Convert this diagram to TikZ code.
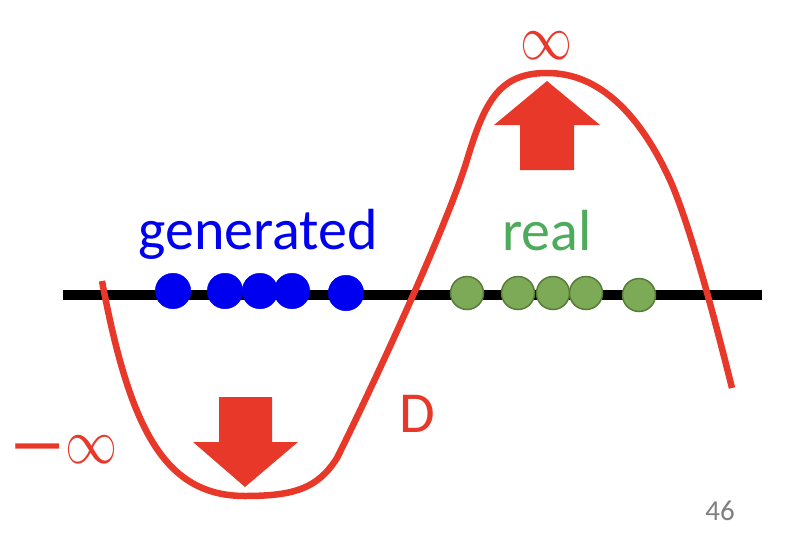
\documentclass[tikz,border=0pt]{standalone}
\usepackage{fontspec}
\usepackage{graphicx}
\setmainfont{Carlito}
\definecolor{dred}{HTML}{E8382A}
\definecolor{genblue}{HTML}{0000F0}
\definecolor{realgreen}{HTML}{4EAB5C}
\definecolor{dotgreen}{HTML}{7DAA56}
\definecolor{dotedge}{HTML}{587C38}
\newcommand{\tallinf}{{\fontsize{10}{12}\selectfont\scalebox{5.2}[6.4]{$\infty$}}}
\begin{document}
\begin{tikzpicture}[x=1pt,y=-1pt,
	lbl/.style={anchor=base,inner sep=0pt,font=\fontsize{58}{60}\selectfont}]
	\useasboundingbox (0,0) rectangle (802,546);
	% axis
	\draw[line width=10.5pt](63,295)--(762,295);
	% generated samples
	\foreach \x/\y in {173/291,225/291,260/291,292/291,346/293}
		\filldraw[genblue](\x,\y) circle(17.8);
	% real samples
	\foreach \x/\y in {467/293,518/293,553/293,586/293,639/295}
		\filldraw[fill=dotgreen,draw=dotedge,line width=1.5pt](\x,\y) circle(16.5);
	% discriminator
	\draw[dred,line width=6.5pt,line join=round](102,281)
		.. controls (130,430) and (165,496) .. (245,496)
		.. controls (295,496) and (318,488) .. (337,458)
		.. controls (365,402) and (445,232) .. (467,160)
		.. controls (485,100) and (500,73) .. (547,73)
		.. controls (600,73) and (640,115) .. (670,180)
		.. controls (690,225) and (715,320) .. (732,388);
	\fill[dred](219,397)--(272,397)--(272,442)--(298,442)--(245,487)--(193,442)--(219,442)--cycle;
	\fill[dred](520,170)--(574,170)--(574,125)--(600,125)--(547,81)--(494,125)--(520,125)--cycle;
	% labels
	\node[lbl,text=genblue] (gen) at (258,249) {generated};
	\node[lbl,text=realgreen] (real) at (547,250) {real};
	\node[lbl,text=dred] (dlabel) at (417,432) {D};
	\node[lbl,text=dred] (pinf) at (546,59) {\tallinf};
	\node[lbl,text=dred] (minf) at (64,463)
		{{\bfseries\fontsize{60}{64}\selectfont —}\tallinf};
	\node[anchor=base,inner sep=0pt,text=gray,font=\fontsize{29}{30}\selectfont] (page) at (720,520) {46};
\end{tikzpicture}
\end{document}
